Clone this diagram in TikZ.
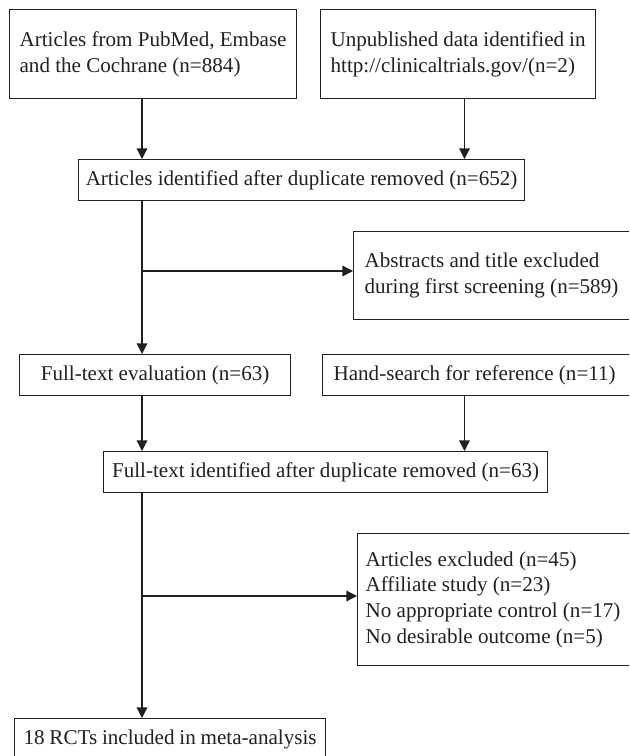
\documentclass[tikz,border=0pt]{standalone}
\usepackage{fontspec}
\setmainfont{Liberation Serif}
\usetikzlibrary{arrows.meta}

\definecolor{ink}{HTML}{231F20}

\begin{document}
\begin{tikzpicture}[x=0.02cm, y=-0.02cm, line width=0.7pt, draw=ink, text=ink,
		font=\fontsize{12}{14.6}\selectfont,
		box/.style={draw, rectangle, anchor=north west, inner ysep=0pt},
		flow/.style={-{Triangle[width=6pt,length=6pt]}}]
			\clip (0, 0) rectangle (629, 756);

			\node[box, minimum width=5.74cm, minimum height=1.78cm, inner xsep=0.2cm, text width=5.34cm, align=flush left]
			(src1) at (9, 9) {Articles from PubMed, Embase\\and the Cochrane (n=884)};
			\node[box, minimum width=5.5cm, minimum height=1.78cm, inner xsep=0.2cm, text width=5.1cm, align=flush left]
			(src2) at (320, 9) {Unpublished data identified in\\http://clinicaltrials.gov/(n=2)};
			\node[box, minimum width=8.92cm, minimum height=0.82cm] (dedup) at (78, 159)
			{Articles identified after duplicate removed (n=652)};
			\node[box, minimum width=5.74cm, minimum height=1.76cm, inner xsep=0.22cm, text width=5.3cm, align=flush left]
			(abstr) at (353, 231) {Abstracts and title excluded\\during first screening (n=589)};
			\node[box, minimum width=5.42cm, minimum height=0.82cm] (fulltext) at (19, 354)
			{Full-text evaluation (n=63)};
			\node[box, minimum width=6.36cm, minimum height=0.82cm, inner xsep=0.22cm, text width=5.92cm, align=flush left]
			(hand) at (322, 354) {Hand-search for reference (n=11)};
			\node[box, minimum width=8.88cm, minimum height=0.82cm] (ftid) at (103, 451)
			{Full-text identified after duplicate removed (n=63)};
			\node[box, minimum width=5.66cm, minimum height=2.64cm, inner xsep=0.16cm, text width=5.34cm, align=flush left]
			(excl) at (357, 533) {Articles excluded (n=45)\\Affiliate study (n=23)\\No appropriate control (n=17)\\No desirable outcome (n=5)\\[0.2cm]};
			\node[box, minimum width=6.22cm, minimum height=0.82cm, inner xsep=0.18cm, text width=5.86cm, align=flush left]
			(rcts) at (14, 718) {18 RCTs included in meta-analysis};

			\coordinate (lane) at (142, 0);
			\coordinate (lane2) at (464.5, 0);
			\coordinate (fork1) at (142, 271);
			\coordinate (fork2) at (142, 596);

			\draw[flow] (src1.south -| lane) -- (dedup.north -| lane);
			\draw[flow] (src2.south -| lane2) -- (dedup.north -| lane2);
			\draw[flow] (dedup.south -| lane) -- (fulltext.north -| lane);
			\draw[flow] (fork1) -- (fork1 -| abstr.west);
			\draw[flow] (fulltext.south -| lane) -- (ftid.north -| lane);
			\draw[flow] (hand.south -| lane2) -- (ftid.north -| lane2);
			\draw[flow] (ftid.south -| lane) -- (rcts.north -| lane);
			\draw[flow] (fork2) -- (fork2 -| excl.west);

		\end{tikzpicture}
\end{document}
